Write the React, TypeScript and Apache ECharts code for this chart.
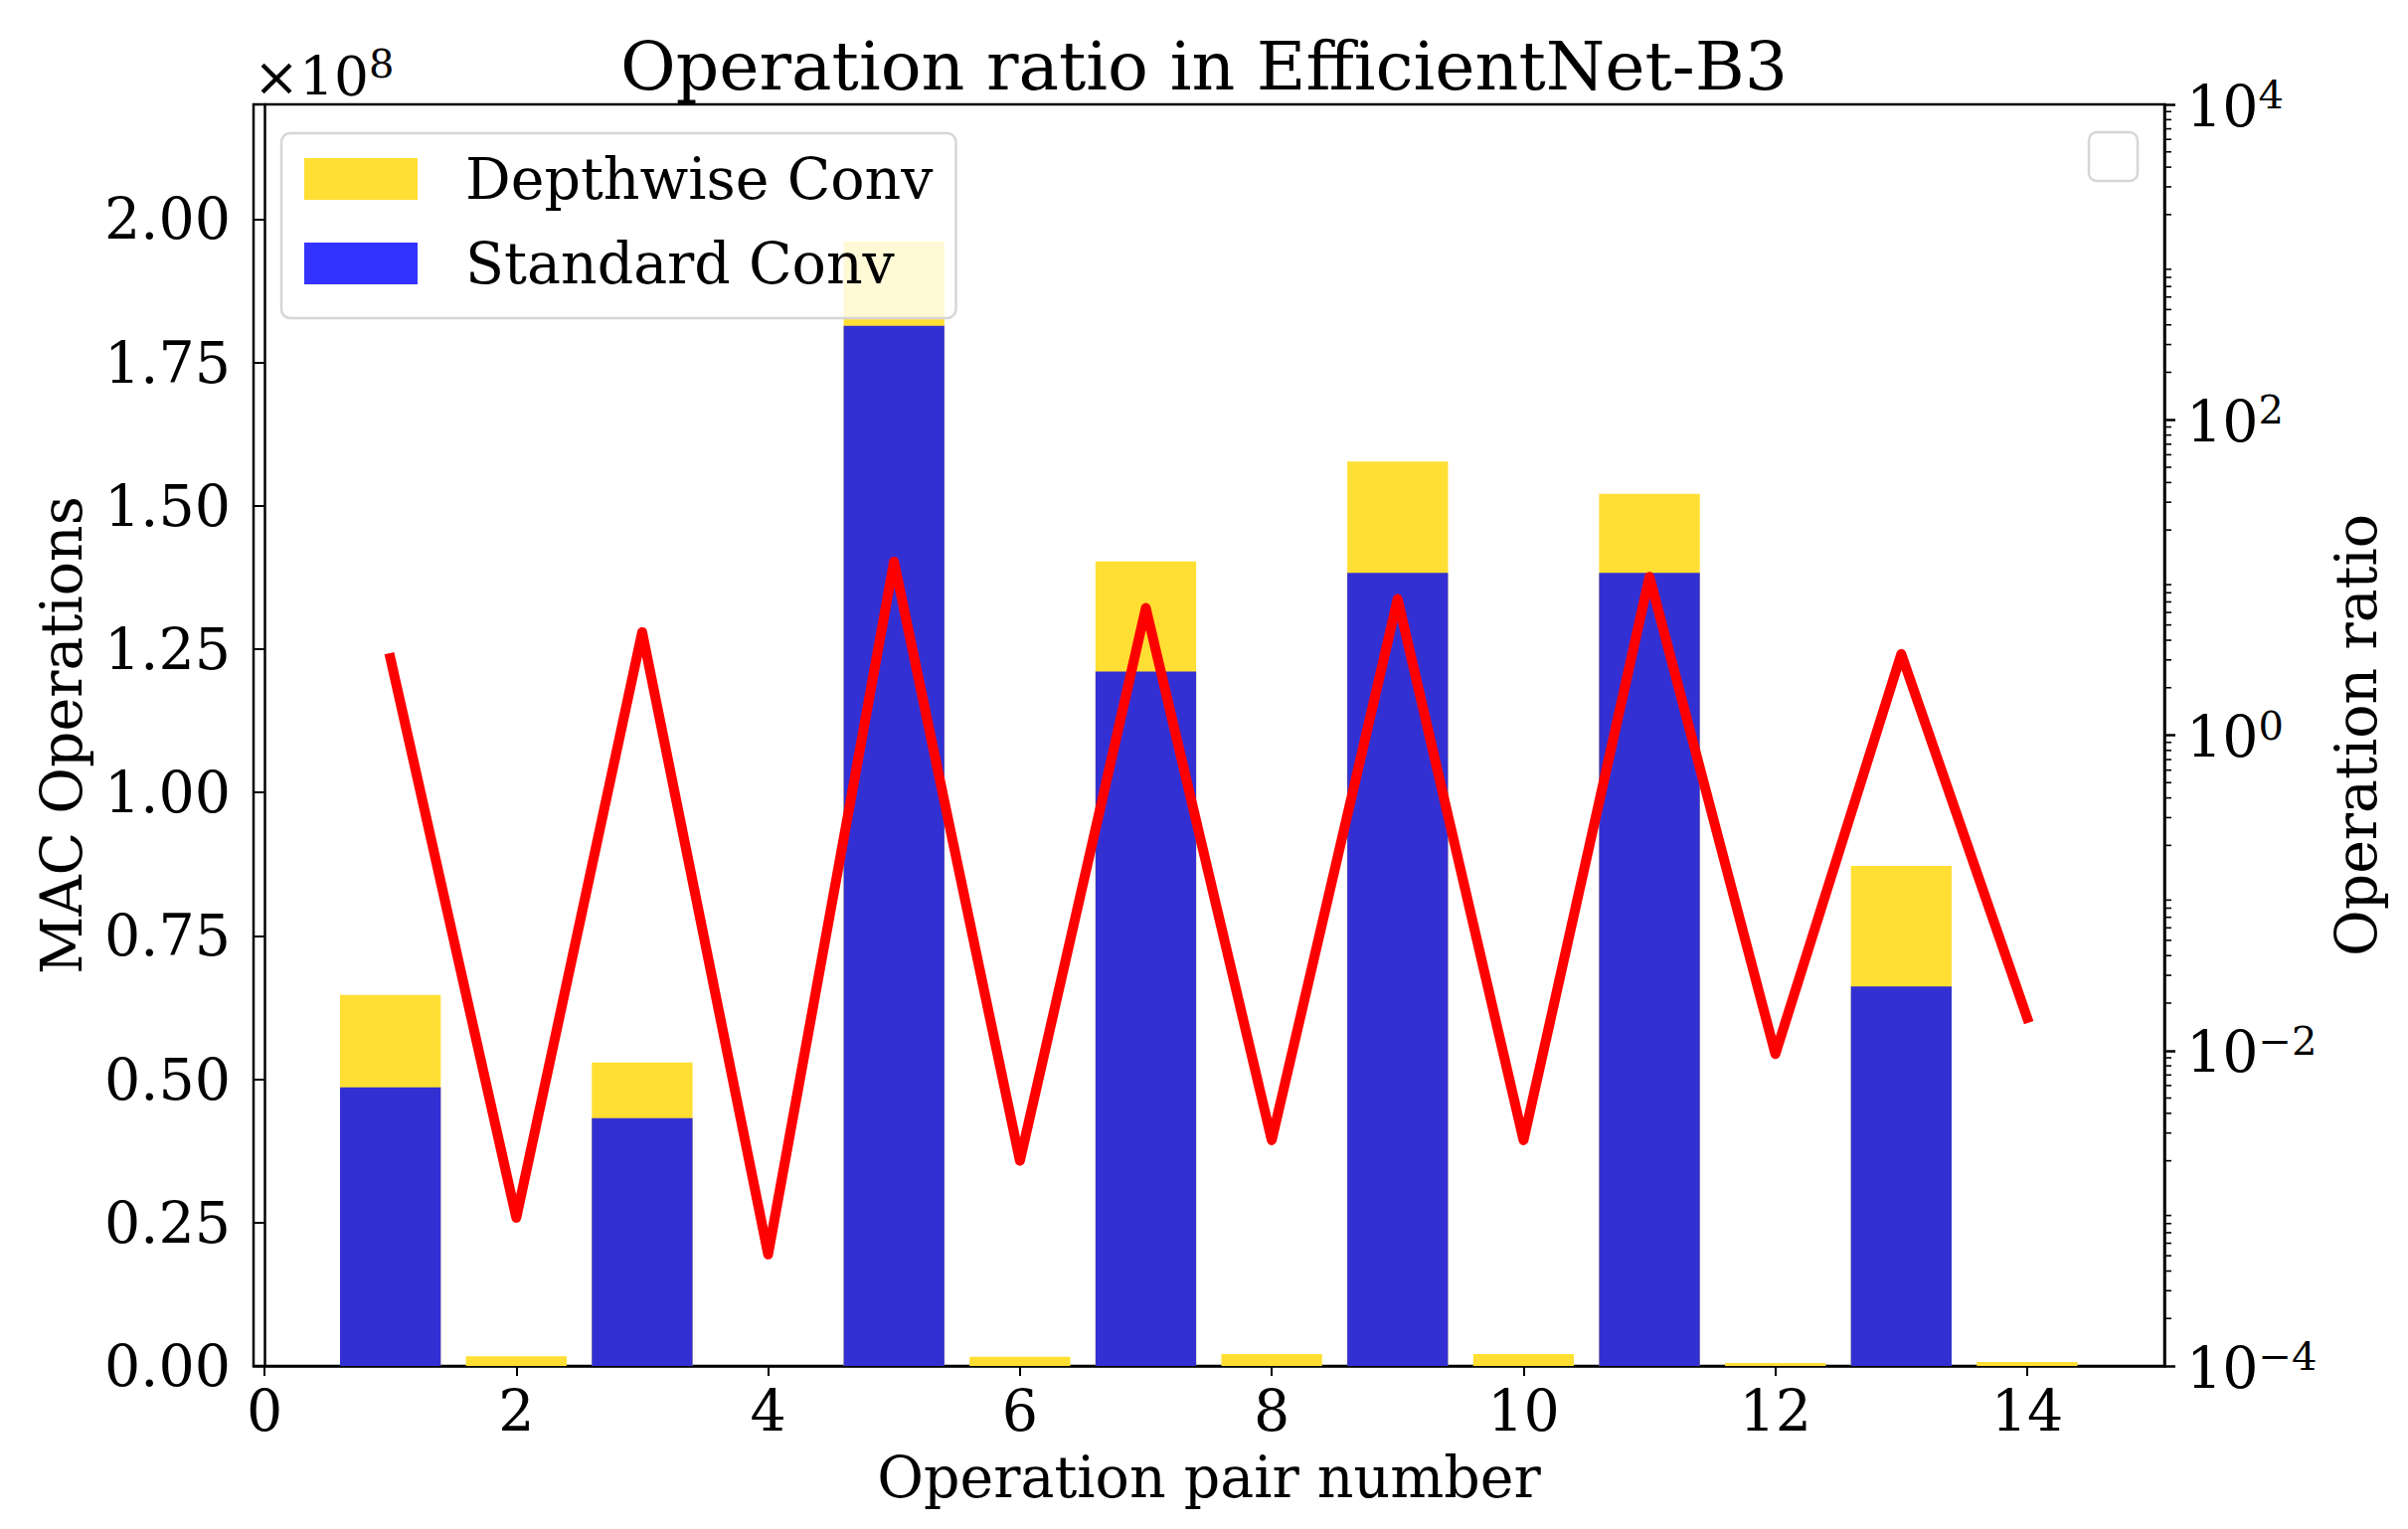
import React, { useEffect, useRef } from "react";
import * as echarts from "echarts";

const FONT = "'DejaVu Serif', serif";

// ---- data ----
const pairNumbers = [1, 2, 3, 4, 5, 6, 7, 8, 9, 10, 11, 12, 13, 14];
// MAC operations in units of 1e8
const standardConv = [0.486, 0, 0.432, 0, 1.814, 0, 1.211, 0, 1.383, 0, 1.383, 0, 0.662, 0];
const depthwiseConv = [0.161, 0.017, 0.097, 0, 0.147, 0.016, 0.192, 0.021, 0.194, 0.021, 0.138, 0.005, 0.21, 0.007];
const operationRatio = [3.08, 0.00087, 4.5, 0.00051, 12.6, 0.002, 6.4, 0.0027, 7.3, 0.0027, 10.1, 0.0095, 3.27, 0.0161];

const xTicks = [0, 2, 4, 6, 8, 10, 12, 14];
const leftTicks = [0, 0.25, 0.5, 0.75, 1.0, 1.25, 1.5, 1.75, 2.0];
const rightTicks = [1e-4, 1e-2, 1, 1e2, 1e4];
const minorSubs = [2, 3, 4, 5, 6, 7, 8, 9];
const minorDecades = [-4, -3, -2, -1, 0, 1, 2, 3];

const legendNames = ["Depthwise Conv", "Standard Conv"];

export default function App() {
  const ref = useRef<HTMLDivElement>(null);

  useEffect(() => {
    if (!ref.current) return;
    const chart = echarts.init(ref.current, undefined, { renderer: "svg" });

    const minorTicks: number[] = [];
    minorDecades.forEach((d) => minorSubs.forEach((m) => minorTicks.push(m * Math.pow(10, d))));

    const supText = (e: number) => (e < 0 ? "\u2212" + String(-e) : String(e));

    // depthwise bars sit on top of the standard bars: draw the cumulative top
    const stackedTop = pairNumbers.map((x, i) => [x, standardConv[i] + depthwiseConv[i]]);

    const option: any = {
      animation: false,
      backgroundColor: "#ffffff",
      title: {
        text: "Operation ratio in EfficientNet-B3",
        left: "center",
        top: 32,
        padding: [0, 0, 0, 10],
        textStyle: { fontSize: 68, fontWeight: "normal", fontFamily: FONT, color: "#000" },
      },
      grid: {
        left: 255,
        top: 105,
        width: 1922,
        height: 1269,
        show: true,
        borderColor: "#000",
        borderWidth: 2.5,
        backgroundColor: "transparent",
      },
      legend: {
        data: [
          { name: legendNames[0], itemStyle: { color: "#ffdf33" } },
          { name: legendNames[1], itemStyle: { color: "#3333ff" } },
        ],
        orient: "vertical",
        left: 283,
        top: 134,
        icon: "rect",
        itemWidth: 114,
        itemHeight: 42,
        itemGap: 28,
        padding: [17.5, 23, 26.5, 23],
        backgroundColor: "rgba(255,255,255,0.8)",
        borderColor: "#d6d6d6",
        borderWidth: 2.5,
        borderRadius: 9,
        selectedMode: false,
        textStyle: {
          fontSize: 57,
          lineHeight: 57,
          fontFamily: FONT,
          color: "#000",
          padding: [0, 0, 0, 43],
        },
      },
      xAxis: {
        type: "value",
        min: -0.087,
        max: 15.09,
        splitLine: { show: false },
        axisLine: { show: true, onZero: false, lineStyle: { color: "#000", width: 2.5 } },
        axisTick: { show: true, length: 10, lineStyle: { color: "#000", width: 2 }, customValues: xTicks },
        axisLabel: {
          customValues: xTicks,
          fontSize: 57,
          fontFamily: FONT,
          color: "#000",
          margin: 16,
          formatter: (v: number) => String(v),
        },
        name: "Operation pair number",
        nameLocation: "middle",
        nameGap: 83,
        nameTextStyle: { fontSize: 57, fontFamily: FONT, color: "#000" },
      },
      yAxis: [
        {
          type: "value",
          position: "left",
          min: 0,
          max: 2.2,
          splitLine: { show: false },
          axisLine: { show: true, lineStyle: { color: "#000", width: 2.5 } },
          axisTick: { show: true, length: 10, lineStyle: { color: "#000", width: 2 }, customValues: leftTicks },
          axisLabel: {
            customValues: leftTicks,
            fontSize: 57,
            fontFamily: FONT,
            color: "#000",
            margin: 23,
            formatter: (v: number) => v.toFixed(2),
          },
          name: "MAC Operations",
          nameLocation: "middle",
          nameGap: 165,
          nameTextStyle: { fontSize: 57, fontFamily: FONT, color: "#000" },
        },
        {
          type: "log",
          logBase: 10,
          position: "right",
          min: 1e-4,
          max: 1e4,
          splitLine: { show: false },
          axisLine: { show: true, lineStyle: { color: "#000", width: 2.5 } },
          axisTick: { show: true, length: 11, lineStyle: { color: "#000", width: 2.5 }, customValues: rightTicks },
          axisLabel: {
            customValues: rightTicks,
            margin: 22,
            formatter: (v: number) => `{b|10}{s|${supText(Math.round(Math.log10(v)))}}`,
            rich: {
              b: { fontSize: 57, fontFamily: FONT, color: "#000", lineHeight: 60, verticalAlign: "bottom" },
              s: { fontSize: 40, fontFamily: FONT, color: "#000", lineHeight: 40, verticalAlign: "top" },
            },
          },
          name: "Operation ratio",
          nameLocation: "middle",
          nameGap: 163,
          nameTextStyle: { fontSize: 57, fontFamily: FONT, color: "#000" },
        },
      ],
      graphic: [
        {
          type: "text",
          x: 255,
          y: 44,
          style: {
            text: "{a|\u00d710}{b|8}",
            verticalAlign: "top",
            align: "left",
            rich: {
              a: { fontSize: 55, fontFamily: FONT, fill: "#000", lineHeight: 60, verticalAlign: "bottom" },
              b: { fontSize: 40, fontFamily: FONT, fill: "#000", lineHeight: 40, verticalAlign: "top" },
            },
          },
        },
        {
          type: "rect",
          z: 100,
          shape: { x: 2101, y: 133, width: 49, height: 49, r: 8 },
          style: { fill: "rgba(255,255,255,0.8)", stroke: "#d6d6d6", lineWidth: 2.5 },
        },
      ],
      series: [
        {
          name: legendNames[0],
          type: "bar",
          barWidth: "80%",
          barGap: "-100%",
          xAxisIndex: 0,
          yAxisIndex: 0,
          itemStyle: { color: "#ffdf33" },
          data: stackedTop,
          z: 2,
        },
        {
          name: legendNames[1],
          type: "bar",
          barWidth: "80%",
          barGap: "-100%",
          xAxisIndex: 0,
          yAxisIndex: 0,
          itemStyle: { color: "#3330d3" },
          data: pairNumbers.map((x, i) => [x, standardConv[i]]),
          z: 2,
        },
        {
          type: "line",
          xAxisIndex: 0,
          yAxisIndex: 1,
          symbol: "none",
          showSymbol: false,
          lineStyle: { color: "#ff0000", width: 10, cap: "square", join: "round" },
          data: pairNumbers.map((x, i) => [x, operationRatio[i]]),
          z: 3,
        },
        {
          type: "custom",
          xAxisIndex: 0,
          yAxisIndex: 1,
          silent: true,
          clip: false,
          z: 5,
          renderItem: (params: any, api: any) => {
            const y = api.coord([0, api.value(1)])[1];
            const cs = params.coordSys;
            const x = cs.x + cs.width;
            return {
              type: "line",
              shape: { x1: x, y1: y, x2: x + 7, y2: y },
              style: { stroke: "#000", lineWidth: 1.6 },
            };
          },
          data: minorTicks.map((v) => [0, v]),
        },
      ],
    };

    chart.setOption(option);
    return () => chart.dispose();
  }, []);

  return (
    <div
      ref={ref}
      style={{ position: "absolute", left: 0, top: 0, width: 2422, height: 1538, background: "#fff" }}
    />
  );
}
